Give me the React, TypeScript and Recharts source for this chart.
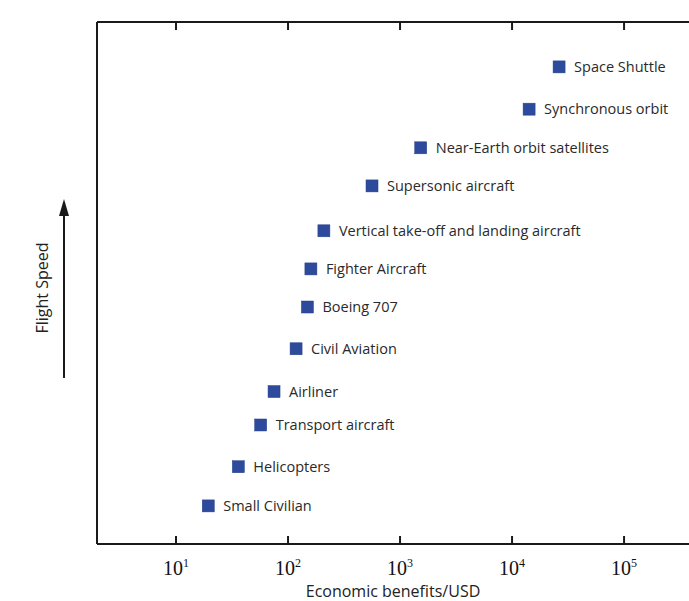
import React from 'react';
import { ScatterChart, Scatter, XAxis, YAxis, ReferenceLine } from 'recharts';

// economic benefit (USD, log scale) vs. relative flight speed rank
const names = [
  'Space Shuttle',
  'Synchronous orbit',
  'Near-Earth orbit satellites',
  'Supersonic aircraft',
  'Vertical take-off and landing aircraft',
  'Fighter Aircraft',
  'Boeing 707',
  'Civil Aviation',
  'Airliner',
  'Transport aircraft',
  'Helicopters',
  'Small Civilian',
];
const benefits = [26300, 14200, 1530, 562, 209, 160, 149, 118, 75, 57, 36, 19.4];
const speeds = [91.4, 83.3, 75.9, 68.6, 60.0, 52.7, 45.4, 37.4, 29.2, 22.8, 14.8, 7.3];
const xTicks = [10, 100, 1000, 10000, 100000];
const xDomain = [1.97, 380000];
const yDomain = [0, 100];

const data = names.map((name, i) => ({ name, benefit: benefits[i], speed: speeds[i] }));
// inward tick marks on the bottom and top frame lines
const tickMarks = xTicks.flatMap((v) => [
  { benefit: v, speed: yDomain[0], dir: -1 },
  { benefit: v, speed: yDomain[1], dir: 1 },
]);

const SANS = '"Open Sans", "Noto Sans", sans-serif';
const AXIS = '#1a1a1a';
const MARK = '#2d4a9c';

const BottomTick = ({ x, y, payload }: any) => {
  const exp = Math.round(Math.log10(payload.value));
  return (
    <text x={x} y={y + 31} textAnchor="middle" fontFamily='"Liberation Serif", serif' fontSize={20} fill="#111">
      10<tspan dy={-8} fontSize={12}>{exp}</tspan>
    </text>
  );
};

const TickMark = ({ cx, cy, payload }: any) => (
  <line x1={cx} x2={cx} y1={cy} y2={cy + payload.dir * 8} stroke={AXIS} strokeWidth={2} />
);

const Marker = ({ cx, cy, payload }: any) => (
  <g>
    <rect x={cx - 6} y={cy - 6} width={12} height={12} fill={MARK} stroke="#26408a" strokeWidth={0.5} />
    <text x={cx + 15} y={cy} dy="0.35em" fontFamily={SANS} fontSize={14.5} fill="#2a2a2a">
      {payload.name}
    </text>
  </g>
);

const SpeedLabel = ({ viewBox }: any) => {
  const { x, y } = viewBox;
  const ax = x + 64;
  const tx = x + 42;
  const ty = y + 266;
  return (
    <g>
      <line x1={ax} x2={ax} y1={y + 356} y2={y + 190} stroke={AXIS} strokeWidth={2} />
      <polygon points={`${ax - 5},${y + 194} ${ax + 5},${y + 194} ${ax},${y + 177}`} fill={AXIS} />
      <text
        x={tx}
        y={ty}
        textAnchor="middle"
        dominantBaseline="central"
        transform={`rotate(-90, ${tx}, ${ty})`}
        fontFamily={SANS}
        fontSize={16}
        fill="#222"
      >
        Flight Speed
      </text>
    </g>
  );
};

export default function App() {
  return (
    <div style={{ position: 'absolute', left: 0, top: 0, background: '#fff' }}>
      <ScatterChart width={689} height={601} margin={{ top: 22, right: 0, bottom: 0, left: 0 }}>
        <XAxis
          type="number"
          dataKey="benefit"
          scale="log"
          domain={xDomain}
          ticks={xTicks}
          allowDataOverflow
          height={57}
          tickSize={0}
          tickMargin={0}
          tickLine={false}
          axisLine={{ stroke: AXIS, strokeWidth: 2 }}
          tick={<BottomTick />}
          label={{
            value: 'Economic benefits/USD',
            position: 'insideBottom',
            offset: 4,
            style: { fontFamily: SANS, fontSize: 16, fill: '#222' },
          }}
        />
        <YAxis
          type="number"
          dataKey="speed"
          domain={yDomain}
          allowDataOverflow
          width={97}
          tick={false}
          tickLine={false}
          axisLine={{ stroke: AXIS, strokeWidth: 2 }}
          label={(props: any) => <SpeedLabel {...props} />}
        />
        <ReferenceLine y={yDomain[1]} stroke={AXIS} strokeWidth={2} ifOverflow="visible" />
        <Scatter data={tickMarks} shape={<TickMark />} isAnimationActive={false} />
        <Scatter data={data} shape={<Marker />} isAnimationActive={false} />
      </ScatterChart>
    </div>
  );
}
